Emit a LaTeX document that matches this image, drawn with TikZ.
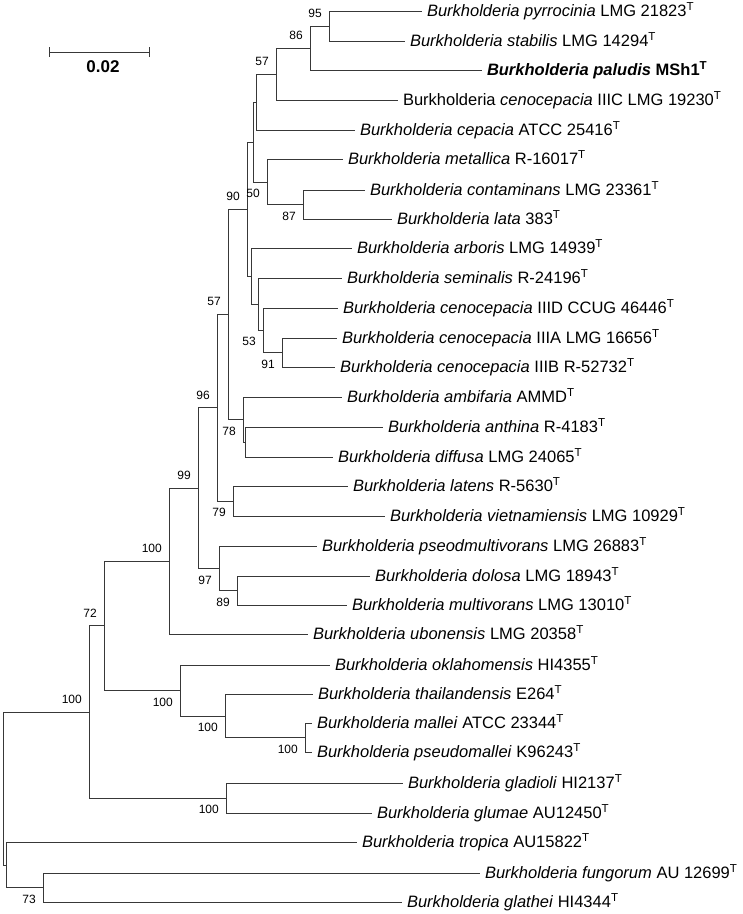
\documentclass[tikz,border=0pt]{standalone}
\usepackage{fontspec}
\setmainfont{Liberation Sans}
\begin{document}
\begin{tikzpicture}[x=1pt,y=-1pt,
  branch/.style={draw=black!78,line width=1pt},
  taxon/.style={anchor=west,inner xsep=5pt,inner ysep=0pt,outer sep=0pt,
    text height=11.5pt,text depth=0pt,font=\fontsize{16.5}{18}\selectfont},
  boot/.style={anchor=base east,inner sep=0pt,xshift=-7pt,font=\fontsize{12}{14}\selectfont},
  bsa/.style={boot,yshift=8.5pt},
  bsb/.style={boot,yshift=-15.5pt}]
\useasboundingbox (0,0) rectangle (743,914);

% scale bar
\coordinate (sbl) at (49,52);
\coordinate (sbr) at (149,52);
\draw[branch] (sbl) -- (sbr);
\draw[branch] (sbl) ++(0,-5) -- ++(0,10);
\draw[branch] (sbr) ++(0,-5) -- ++(0,10);
\node[font=\fontsize{17}{19}\selectfont\bfseries] (sbt) at (103,67) {0.02};

% leaves
\node[taxon] (pyr) at (422,11) {\textit{Burkholderia pyrrocinia} LMG 21823\textsuperscript{T}};
\node[taxon] (sta) at (405,41) {\textit{Burkholderia stabilis} LMG 14294\textsuperscript{T}};
\node[taxon] (pal) at (482,70) {\bfseries\textit{Burkholderia paludis} MSh1\textsuperscript{T}};
\node[taxon] (cIIIC) at (398,100) {Burkholderia \textit{cenocepacia} IIIC LMG 19230\textsuperscript{T}};
\node[taxon] (cep) at (355,130) {\textit{Burkholderia cepacia} ATCC 25416\textsuperscript{T}};
\node[taxon] (met) at (343,159) {\textit{Burkholderia metallica} R-16017\textsuperscript{T}};
\node[taxon] (con) at (365,190) {\textit{Burkholderia contaminans} LMG 23361\textsuperscript{T}};
\node[taxon] (lat) at (392,219) {\textit{Burkholderia lata} 383\textsuperscript{T}};
\node[taxon] (arb) at (352,248) {\textit{Burkholderia arboris} LMG 14939\textsuperscript{T}};
\node[taxon] (sem) at (342,278) {\textit{Burkholderia seminalis} R-24196\textsuperscript{T}};
\node[taxon] (cIIID) at (338,308) {\textit{Burkholderia cenocepacia} IIID CCUG 46446\textsuperscript{T}};
\node[taxon] (cIIIA) at (337,338) {\textit{Burkholderia cenocepacia} IIIA LMG 16656\textsuperscript{T}};
\node[taxon] (cIIIB) at (335,367) {\textit{Burkholderia cenocepacia} IIIB R-52732\textsuperscript{T}};
\node[taxon] (amb) at (342,397) {\textit{Burkholderia ambifaria} AMMD\textsuperscript{T}};
\node[taxon] (ant) at (383,427) {\textit{Burkholderia anthina} R-4183\textsuperscript{T}};
\node[taxon] (dif) at (333,457) {\textit{Burkholderia diffusa} LMG 24065\textsuperscript{T}};
\node[taxon] (lts) at (348,486) {\textit{Burkholderia latens} R-5630\textsuperscript{T}};
\node[taxon] (vie) at (385,516) {\textit{Burkholderia vietnamiensis} LMG 10929\textsuperscript{T}};
\node[taxon] (pse) at (317,546) {\textit{Burkholderia pseodmultivorans} LMG 26883\textsuperscript{T}};
\node[taxon] (dol) at (370,576) {\textit{Burkholderia dolosa} LMG 18943\textsuperscript{T}};
\node[taxon] (mul) at (347,605) {\textit{Burkholderia multivorans} LMG 13010\textsuperscript{T}};
\node[taxon] (ubo) at (308,634) {\textit{Burkholderia ubonensis} LMG 20358\textsuperscript{T}};
\node[taxon] (okl) at (330,665) {\textit{Burkholderia oklahomensis} HI4355\textsuperscript{T}};
\node[taxon] (tha) at (313,694) {\textit{Burkholderia thailandensis} E264\textsuperscript{T}};
\node[taxon] (mal) at (312,723) {\textit{Burkholderia mallei} ATCC 23344\textsuperscript{T}};
\node[taxon] (psm) at (312,752) {\textit{Burkholderia pseudomallei} K96243\textsuperscript{T}};
\node[taxon] (gla) at (403,783) {\textit{Burkholderia gladioli} HI2137\textsuperscript{T}};
\node[taxon] (glu) at (372,813) {\textit{Burkholderia glumae} AU12450\textsuperscript{T}};
\node[taxon] (tro) at (357,842) {\textit{Burkholderia tropica} AU15822\textsuperscript{T}};
\node[taxon] (fun) at (480,873) {\textit{Burkholderia fungorum} AU 12699\textsuperscript{T}};
\node[taxon] (glt) at (402,902) {\textit{Burkholderia glathei} HI4344\textsuperscript{T}};

% internal nodes
\coordinate (n95) at (329,26);
\coordinate (n86) at (310,48);
\coordinate (n57a) at (276,74);
\coordinate (nA) at (256,102);
\coordinate (nB) at (253,142);
\coordinate (n50) at (267,182);
\coordinate (n87) at (303,204.5);
\coordinate (n90) at (247,209);
\coordinate (nD) at (251,276);
\coordinate (nE) at (258,304);
\coordinate (n53) at (263,330);
\coordinate (n91) at (282,352.5);
\coordinate (n57b) at (228,314);
\coordinate (n78) at (243,419.5);
\coordinate (nI) at (245,442);
\coordinate (n96) at (217,407.5);
\coordinate (n79) at (233,501);
\coordinate (n99) at (198,488);
\coordinate (n97) at (219,568.5);
\coordinate (n89) at (237,590.5);
\coordinate (nK) at (169,561);
\coordinate (n72) at (104,625.5);
\coordinate (nM) at (180,690.5);
\coordinate (nN) at (225,716);
\coordinate (nO) at (305,737.5);
\coordinate (nP) at (89,712);
\coordinate (nQ) at (226,798);
\coordinate (root) at (3,789);
\coordinate (nR) at (6,865);
\coordinate (n73) at (43,887.5);

% branches
\foreach \p/\c in {n95/pyr,n95/sta,n86/n95,n86/pal,n57a/n86,n57a/cIIIC,
    nA/n57a,nA/cep,nB/nA,nB/n50,n50/met,n50/n87,n87/con,n87/lat,
    n90/nB,n90/nD,nD/arb,nD/nE,nE/sem,nE/n53,n53/cIIID,n53/n91,n91/cIIIA,n91/cIIIB,
    n57b/n90,n57b/n78,n78/amb,n78/nI,nI/ant,nI/dif,
    n96/n57b,n96/n79,n79/lts,n79/vie,n99/n96,n99/n97,n97/pse,n97/n89,n89/dol,n89/mul,
    nK/n99,nK/ubo,n72/nK,n72/nM,nM/okl,nM/nN,nN/tha,nN/nO,nO/mal,nO/psm,
    nP/n72,nP/nQ,nQ/gla,nQ/glu,root/nP,root/nR,nR/tro,nR/n73,n73/fun,n73/glt}
  \draw[branch] (\p) |- (\c);

% bootstrap values
\node[bsa] (b95) at (n95) {95};
\node[bsa] (b86) at (n86) {86};
\node[bsa] (b57a) at (n57a) {57};
\node[bsb] (b50) at (n50) {50};
\node[bsb] (b87) at (n87) {87};
\node[bsa] (b90) at (n90) {90};
\node[bsa] (b57b) at (n57b) {57};
\node[bsb] (b53) at (n53) {53};
\node[bsb] (b91) at (n91) {91};
\node[bsa] (b96) at (n96) {96};
\node[bsb] (b78) at (n78) {78};
\node[bsa] (b99) at (n99) {99};
\node[bsb] (b79) at (n79) {79};
\node[bsa] (bK) at (nK) {100};
\node[bsb] (b97) at (n97) {97};
\node[bsb] (b89) at (n89) {89};
\node[bsa] (b72) at (n72) {72};
\node[bsb] (bM) at (nM) {100};
\node[bsa] (bP) at (nP) {100};
\node[bsb] (bN) at (nN) {100};
\node[bsb] (bO) at (nO) {100};
\node[bsb] (bQ) at (nQ) {100};
\node[bsb] (b73) at (n73) {73};
\end{tikzpicture}
\end{document}
